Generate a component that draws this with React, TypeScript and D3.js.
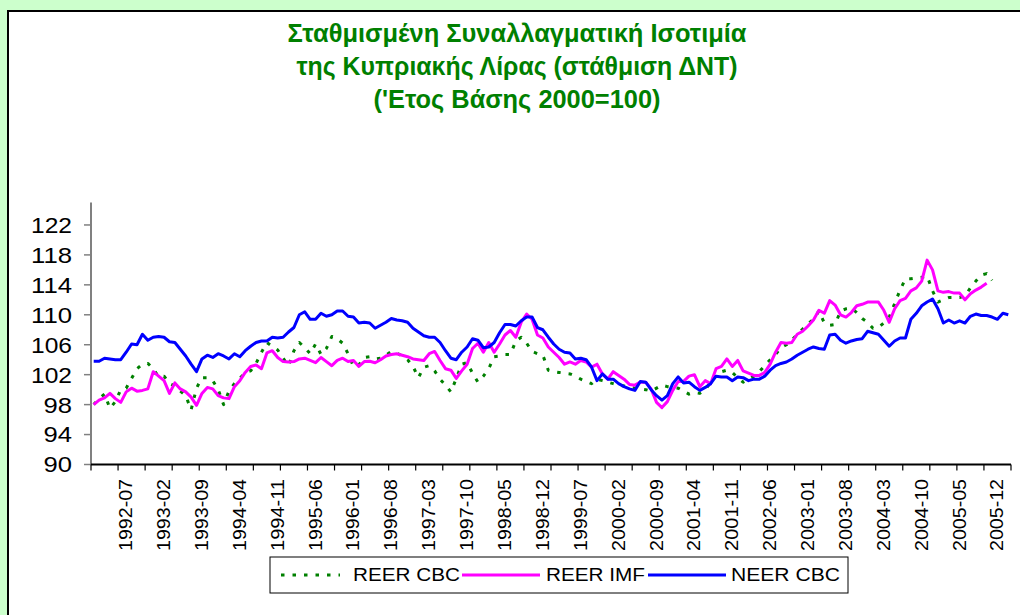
import React from 'react';
import * as d3 from 'd3';

// ---------- DATA ----------
const START = new Date(1992, 0, 1);
const END = new Date(2006, 2, 1);
const months: string[] = d3.timeMonth.range(START, END).map(d3.timeFormat('%Y-%m'));

const tickLabels = [
  '1992-07', '1993-02', '1993-09', '1994-04', '1994-11', '1995-06', '1996-01', '1996-08',
  '1997-03', '1997-10', '1998-05', '1998-12', '1999-07', '2000-02', '2000-09', '2001-04',
  '2001-11', '2002-06', '2003-01', '2003-08', '2004-03', '2004-10', '2005-05', '2005-12',
];

const yTicks = [90, 94, 98, 102, 106, 110, 114, 118, 122];

const titleLines = [
  'Σταθμισμένη Συναλλαγματική Ισοτιμία',
  'της Κυπριακής Λίρας (στάθμιση ΔΝΤ)',
  "('Ετος Βάσης 2000=100)",
];

const seriesNames = ['REER CBC', 'REER IMF', 'NEER CBC'];

const reerCBC: (number | null)[] = [
  98.0, 98.8, 99.4, 97.5, 98.4, 100.0, 100.2, 101.5, 102.8, 103.4,
  103.5, 102.8, 101.7, 101.8, 100.8, 100.5, 99.8, 99.2, 97.3, 100.2,
  101.6, 101.6, 101.2, 100.0, 98.0, 99.8, 100.8, 101.5, 102.3, 102.5,
  103.5, 105.0, 106.3, 105.8, 105.3, 104.2, 103.2, 105.2, 106.3, 105.6,
  104.8, 106.1, 104.7, 105.5, 107.1, 106.8, 106.2, 104.8, 103.1, 103.3,
  104.3, 104.4, 104.1, 104.2, 104.6, 105.1, 104.9, 104.5, 104.0, 103.1,
  101.6, 103.0, 103.2, 102.5, 101.4, 100.6, 99.7, 101.5, 103.4, 103.6,
  102.2, 101.0, 101.8, 102.8, 104.4, 104.5, 104.7, 104.7, 106.5, 107.0,
  106.2, 105.1, 104.8, 104.6, 102.6, 102.4, 102.3, 102.2, 102.1, 101.8,
  101.4, 101.1, 100.8, 101.4, 101.2, 101.0, 100.8, 100.6, 100.5, 100.3,
  100.2, 100.1, 100.0, 99.8, 100.2, 100.6, 100.4, 100.3, 100.2, 99.8,
  99.4, 99.6, 99.5, 100.0, 101.0, 102.1, 102.4, 102.6, 102.3, 101.6,
  101.0, 101.4, 101.8, 102.4, 103.2, 104.0, 104.7, 105.6, 106.0, 106.6,
  107.4, 108.1, 108.8, 109.4, 110.5, 108.9, 108.6, 108.7, 110.5, 110.8,
  110.9, 110.3, 109.5, 109.0, 108.2, 108.3, 108.9, 109.7, 111.5, 113.3,
  114.8, 114.8, 114.9, 115.0, 115.2, 113.2, 111.7, 112.0, 112.3, 112.3,
  112.3, 112.5, 113.6, 114.5, 115.3, 115.5, 114.6, null, null, null,
];

const reerIMF: (number | null)[] = [
  98.0, 98.6, 98.9, 99.5, 98.8, 98.3, 99.7, 100.2, 99.8, 99.9,
  100.1, 102.4, 101.8, 101.2, 99.5, 100.9, 100.1, 99.7, 99.0, 97.9,
  99.5, 100.3, 100.1, 99.2, 98.9, 98.8, 100.4, 101.2, 102.3, 103.1,
  103.3, 102.8, 104.9, 105.2, 104.3, 103.75, 103.7, 103.75, 104.1, 104.2,
  103.9, 103.6, 104.3, 103.75, 103.2, 103.9, 104.2, 103.75, 103.9, 103.1,
  103.75, 103.8, 103.6, 104.0, 104.5, 104.7, 104.8, 104.6, 104.4, 104.1,
  104.0, 103.9, 104.8, 105.1, 103.9, 102.8, 102.6, 101.5, 102.5, 103.4,
  105.5, 106.2, 105.0, 106.3, 105.0, 106.1, 107.3, 107.9, 107.0, 109.0,
  110.1, 109.4, 107.3, 106.9, 105.7, 105.0, 104.3, 103.4, 103.7, 103.4,
  103.9, 103.7, 103.0, 103.4, 102.1, 101.4, 102.4, 101.9, 101.4, 100.7,
  100.6, 101.0, 101.0, 100.1, 98.3, 97.6, 98.4, 99.9, 101.1, 101.1,
  101.8, 102.0, 100.4, 101.2, 100.8, 102.8, 103.1, 104.1, 103.1, 103.9,
  102.5, 102.2, 101.9, 101.9, 102.3, 103.4, 105.0, 106.3, 106.2, 106.3,
  107.4, 107.8, 108.5, 109.3, 110.6, 110.2, 111.9, 111.3, 110.0, 109.7,
  110.3, 111.2, 111.4, 111.7, 111.7, 111.7, 110.6, 109.0, 110.8, 111.9,
  112.2, 113.2, 113.6, 114.5, 117.3, 116.0, 113.2, 113.0, 113.1, 112.9,
  112.9, 112.0, 112.8, 113.3, 113.7, 114.2, null, null, null, null,
];

const neerCBC: (number | null)[] = [
  103.8, 103.8, 104.2, 104.1, 104.0, 104.0, 105.0, 106.1, 106.0, 107.4,
  106.6, 107.0, 107.1, 107.0, 106.4, 106.3, 105.4, 104.5, 103.4, 102.4,
  104.1, 104.6, 104.3, 104.8, 104.5, 104.1, 104.8, 104.4, 105.2, 105.8,
  106.3, 106.5, 106.5, 107.0, 106.9, 107.0, 107.7, 108.3, 110.0, 110.4,
  109.4, 109.4, 110.2, 109.8, 110.0, 110.5, 110.5, 109.8, 109.7, 108.9,
  109.0, 108.9, 108.2, 108.6, 109.0, 109.5, 109.3, 109.2, 109.0, 108.2,
  107.7, 107.2, 107.0, 107.0, 106.3, 105.2, 104.2, 104.0, 105.0, 105.7,
  106.8, 106.6, 105.6, 105.7, 106.3, 107.6, 108.7, 108.7, 108.5, 109.2,
  109.7, 109.7, 108.3, 108.0, 107.0, 106.1, 105.4, 105.0, 104.9, 104.1,
  104.2, 104.0, 103.0, 101.2, 102.1, 101.4, 101.4, 100.8, 100.4, 100.1,
  99.9, 101.1, 101.0, 100.0, 99.2, 98.6, 99.2, 100.8, 101.7, 100.9,
  101.0, 100.4, 99.9, 100.3, 100.8, 101.8, 101.7, 101.7, 101.2, 101.7,
  101.6, 101.2, 101.4, 101.4, 101.8, 102.6, 103.2, 103.5, 103.7, 104.1,
  104.6, 105.0, 105.4, 105.7, 105.5, 105.4, 107.3, 107.4, 106.6, 106.2,
  106.5, 106.7, 106.8, 107.8, 107.6, 107.4, 106.6, 105.8, 106.5, 106.9,
  106.9, 109.4, 110.2, 111.2, 111.7, 112.1, 110.8, 108.9, 109.3, 108.9,
  109.2, 108.9, 109.8, 110.1, 109.9, 109.9, 109.7, 109.4, 110.2, 110.0,
];

// ---------- CHART ----------
const FONT = "'Liberation Sans', Arial, Helvetica, sans-serif";
const GREEN = '#008000';
const PINK = '#FF00FF';
const BLUE = '#0000FF';

export default function App() {
  const W = 1020;
  const H = 615;

  const x = d3.scaleBand<string>().domain(months).range([91, 1011]).paddingInner(0).paddingOuter(0);
  const cx = (m: string) => (x(m) as number) + x.bandwidth() / 2;
  const y = d3.scaleLinear().domain([90, 125]).range([464.5, 202.5]);

  const line = d3
    .line<number | null>()
    .defined((d) => d != null)
    .x((_, i) => cx(months[i]))
    .y((d) => y(d as number));

  const [x0, x1] = x.range();
  const yBottom = y(90);
  const yTop = y(125);

  const tickIdx = d3.range(0, months.length + 1, 5);
  const tickPos = (k: number) => (k >= months.length ? x1 : (x(months[k]) as number));

  const series = [
    { name: seriesNames[0], data: reerCBC, color: GREEN, dash: '3.5 8' },
    { name: seriesNames[1], data: reerIMF, color: PINK, dash: undefined },
    { name: seriesNames[2], data: neerCBC, color: BLUE, dash: undefined },
  ];

  const titleWidths = [459, 441, 287];
  const titleBaselines = [42, 75, 108];

  const legendItems = [
    { s: series[0], lx0: 281, lx1: 340, tx: 353, tw: 107 },
    { s: series[1], lx0: 462, lx1: 540, tx: 546, tw: 99 },
    { s: series[2], lx0: 648, lx1: 726, tx: 731, tw: 109 },
  ];

  return (
    <svg
      width={W}
      height={H}
      style={{ position: 'absolute', left: 0, top: 0, display: 'block' }}
      fontFamily={FONT}
    >
      <rect x={0} y={0} width={W} height={H} fill="#CCFFCC" />
      <rect x={8} y={11} width={W + 20} height={H + 20} fill="#FFFFFF" stroke="#000" strokeWidth={2} />

      {/* Title */}
      {titleLines.map((t, i) => (
        <text
          key={i}
          x={517}
          y={titleBaselines[i]}
          textAnchor="middle"
          fontSize={25}
          fontWeight="bold"
          fill={GREEN}
          textLength={titleWidths[i]}
          lengthAdjust="spacingAndGlyphs"
        >
          {t}
        </text>
      ))}

      {/* Y axis */}
      <line x1={x0} x2={x0} y1={yTop} y2={yBottom} stroke="#808080" strokeWidth={2} />
      {yTicks.map((v) => (
        <g key={v}>
          <line x1={x0 - 7} x2={x0} y1={y(v)} y2={y(v)} stroke="#808080" strokeWidth={1.5} />
          <text
            x={72}
            y={y(v)}
            dy="0.36em"
            textAnchor="end"
            fontSize={22}
            fill="#000"
            textLength={String(v).length === 3 ? 41 : 28.5}
            lengthAdjust="spacingAndGlyphs"
          >
            {v}
          </text>
        </g>
      ))}

      {/* X axis */}
      <line x1={x0} x2={x1} y1={yBottom} y2={yBottom} stroke="#000" strokeWidth={1.8} />
      {tickIdx.map((k) => (
        <line key={k} x1={tickPos(k)} x2={tickPos(k)} y1={yBottom} y2={yBottom + 6} stroke="#000" strokeWidth={1.2} />
      ))}
      {tickLabels.map((lab) => {
        const px = cx(lab);
        const py = 479;
        return (
          <text
            key={lab}
            transform={`translate(${px},${py}) rotate(-90)`}
            textAnchor="end"
            dominantBaseline="central"
            fontSize={18}
            fill="#000"
            textLength={72}
            lengthAdjust="spacingAndGlyphs"
          >
            {lab}
          </text>
        );
      })}

      {/* Lines */}
      {series.map((s) => (
        <path
          key={s.name}
          d={line(s.data) || ''}
          fill="none"
          stroke={s.color}
          strokeWidth={3}
          strokeDasharray={s.dash}
          strokeLinejoin="round"
        />
      ))}

      {/* Legend */}
      <rect x={270} y={557} width={578} height={36} fill="#FFFFFF" stroke="#000" strokeWidth={1} />
      {legendItems.map((it) => (
        <g key={it.s.name}>
          <line
            x1={it.lx0}
            x2={it.lx1}
            y1={575}
            y2={575}
            stroke={it.s.color}
            strokeWidth={3}
            strokeDasharray={it.s.dash}
          />
          <text
            x={it.tx}
            y={575}
            dy="0.36em"
            fontSize={18}
            fill="#000"
            textLength={it.tw}
            lengthAdjust="spacingAndGlyphs"
          >
            {it.s.name}
          </text>
        </g>
      ))}
    </svg>
  );
}
